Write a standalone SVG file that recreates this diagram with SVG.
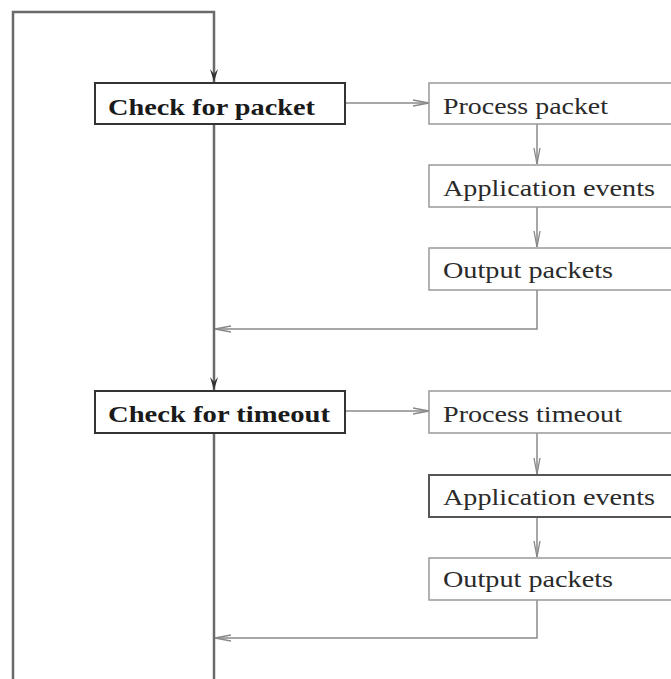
<svg xmlns="http://www.w3.org/2000/svg" width="671" height="679" viewBox="0 0 671 679">
<style>
.main{fill:none;stroke:#6a6a6a;stroke-width:2.5}
.thin{fill:none;stroke:#8a8a8a;stroke-width:1.5}
.cbox{fill:#fff;stroke:#333;stroke-width:2}
.pbox{fill:#fff;stroke:#999;stroke-width:1.5}
.dbox{fill:#fff;stroke:#555;stroke-width:2}
.bt{font-family:"Liberation Serif","Times New Roman",serif;font-weight:bold;font-size:24px;fill:#1a1a1a}
.nt{font-family:"Liberation Serif","Times New Roman",serif;font-size:24px;fill:#2a2a2a}
</style>
<defs>
<marker id="down" viewBox="0 0 13 10" refX="13" refY="5" markerWidth="13" markerHeight="10" markerUnits="userSpaceOnUse" orient="auto">
<path d="M0,1 L13,5 L0,9 L5,5 Z" fill="#333"/>
</marker>
<marker id="chev" viewBox="0 0 16 8" refX="16" refY="4" markerWidth="16" markerHeight="8" markerUnits="userSpaceOnUse" orient="auto">
<path d="M0,1 L16,4 L0,7" fill="none" stroke="#888" stroke-width="1.3"/>
</marker>
</defs>
<g id="connectors">
<path class="main" d="M13,679 L13,12 L214,12 L214,82" marker-end="url(#down)"/>
<path class="main" d="M214,124 L214,390" marker-end="url(#down)"/>
<path class="main" d="M214,433 L214,679"/>
<path class="thin" d="M345,103 L429,103" marker-end="url(#chev)"/>
<path class="thin" d="M537,124 L537,164" marker-end="url(#chev)"/>
<path class="thin" d="M537,207 L537,247" marker-end="url(#chev)"/>
<path class="thin" d="M537,290 L537,329 L215,329" marker-end="url(#chev)"/>
<path class="thin" d="M345,411 L429,411" marker-end="url(#chev)"/>
<path class="thin" d="M537,433 L537,474" marker-end="url(#chev)"/>
<path class="thin" d="M537,517 L537,557" marker-end="url(#chev)"/>
<path class="thin" d="M537,600 L537,638 L215,638" marker-end="url(#chev)"/>
</g>
<g id="check-packet">
<rect class="cbox" x="95" y="83" width="250" height="41"/>
<text class="bt" x="108" y="115" textLength="207" lengthAdjust="spacingAndGlyphs">Check for packet</text>
</g>
<g id="process-packet">
<rect class="pbox" x="429" y="83" width="250" height="41"/>
<text class="nt" x="443" y="114" textLength="165" lengthAdjust="spacingAndGlyphs">Process packet</text>
</g>
<g id="app-events-1">
<rect class="pbox" x="429" y="165" width="250" height="42"/>
<text class="nt" x="443" y="196" textLength="212" lengthAdjust="spacingAndGlyphs">Application events</text>
</g>
<g id="output-packets-1">
<rect class="pbox" x="429" y="248" width="250" height="42"/>
<text class="nt" x="443" y="278" textLength="170" lengthAdjust="spacingAndGlyphs">Output packets</text>
</g>
<g id="check-timeout">
<rect class="cbox" x="95" y="391" width="250" height="42"/>
<text class="bt" x="108" y="422" textLength="222" lengthAdjust="spacingAndGlyphs">Check for timeout</text>
</g>
<g id="process-timeout">
<rect class="pbox" x="429" y="391" width="250" height="42"/>
<text class="nt" x="443" y="422" textLength="179" lengthAdjust="spacingAndGlyphs">Process timeout</text>
</g>
<g id="app-events-2">
<rect class="dbox" x="429" y="475" width="250" height="42"/>
<text class="nt" x="443" y="505" textLength="212" lengthAdjust="spacingAndGlyphs">Application events</text>
</g>
<g id="output-packets-2">
<rect class="pbox" x="429" y="558" width="250" height="42"/>
<text class="nt" x="443" y="587" textLength="170" lengthAdjust="spacingAndGlyphs">Output packets</text>
</g>
</svg>
